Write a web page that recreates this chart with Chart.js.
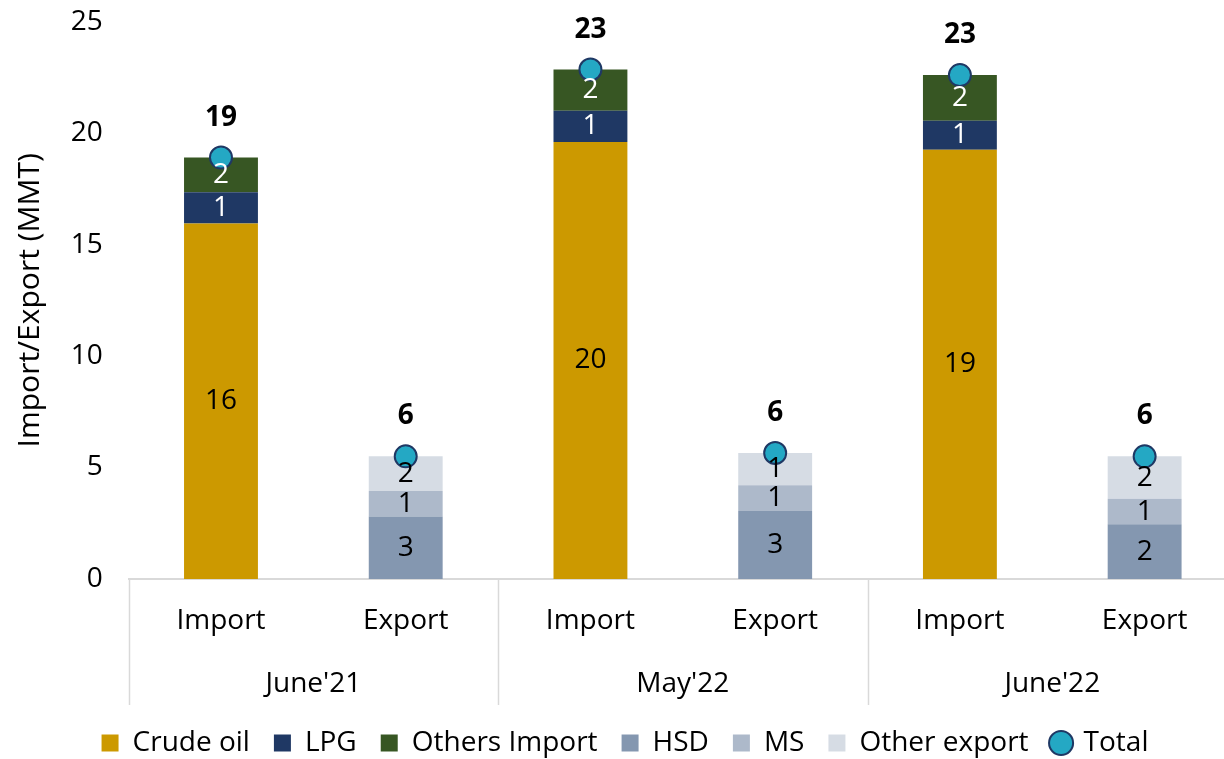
<!DOCTYPE html>
<html>
<head>
<meta charset="utf-8">
<script src="https://cdn.jsdelivr.net/npm/chart.js@4.4.0/dist/chart.umd.min.js"></script>
<style>
  html, body { margin: 0; padding: 0; overflow: hidden; background: #fff; }
  #wrap { width: 1224px; height: 759px; overflow: hidden; }
  #myChart { display: block; margin-top: -21px; }
</style>
</head>
<body>
<div id="wrap"><canvas id="myChart" width="1250" height="788"></canvas></div>
<script>
// data (MMT)
const categories = ["Import", "Export", "Import", "Export", "Import", "Export"];
const months = ["June'21", "May'22", "June'22"];
const crude_oil = [15.95, null, 19.6, null, 19.25, null];
const lpg = [1.4, null, 1.4, null, 1.3, null];
const others_import = [1.55, null, 1.85, null, 2.05, null];
const hsd = [null, 2.8, null, 3.05, null, 2.45];
const ms = [null, 1.15, null, 1.15, null, 1.15];
const other_export = [null, 1.55, null, 1.45, null, 1.9];
const total = [18.9, 5.5, 22.85, 5.65, 22.6, 5.5];

Chart.defaults.font.family = "'Open Sans', sans-serif";
Chart.defaults.font.size = 28;
Chart.defaults.color = "#000";

// value labels inside bars and totals above the dots
const valueLabels = {
  id: "valueLabels",
  afterDatasetsDraw(chart) {
    const ctx = chart.ctx;
    ctx.save();
    ctx.textAlign = "center";
    ctx.textBaseline = "middle";
    chart.data.datasets.forEach((ds, i) => {
      const meta = chart.getDatasetMeta(i);
      meta.data.forEach((el, j) => {
        const v = ds.data[j];
        if (v == null) return;
        if (ds.type === "line") {
          ctx.font = "bold 28px 'Open Sans'";
          ctx.fillStyle = "#000";
          ctx.fillText(Math.round(v), el.x, el.y - 40);
        } else {
          ctx.font = "28px 'Open Sans'";
          ctx.fillStyle = ds.labelColor;
          ctx.fillText(Math.round(v), el.x, (el.y + el.base) / 2);
        }
      });
    });
    ctx.restore();
  },
  afterDraw(chart) {
    // group separators of the two-level category axis
    const x = chart.scales.x;
    const x2 = chart.scales.x2;
    const half = (x.getPixelForTick(1) - x.getPixelForTick(0)) / 2;
    const ctx = chart.ctx;
    ctx.save();
    ctx.strokeStyle = "#d9d9d9";
    ctx.lineWidth = 1.5;
    [0, 2, 4].forEach((i) => {
      const px = Math.round(x.getPixelForTick(i) - half) + 0.5;
      ctx.beginPath();
      ctx.moveTo(px, x.top);
      ctx.lineTo(px, x2.bottom);
      ctx.stroke();
    });
    ctx.restore();
  },
};

const bar = (label, data, color, labelColor) => ({
  type: "bar",
  label: label,
  data: data,
  backgroundColor: color,
  borderWidth: 0,
  pointStyle: "rect",
  labelColor: labelColor,
  stack: "s",
  order: 1,
  barPercentage: 1,
  categoryPercentage: 0.4,
});

const ctx = document.getElementById("myChart").getContext("2d");
const myChart = new Chart(ctx, {
  data: {
    labels: categories,
    datasets: [
      bar("Crude oil", crude_oil, "#cc9900", "#000"),
      bar("LPG", lpg, "#1f3864", "#fff"),
      bar("Others Import", others_import, "#375623", "#fff"),
      bar("HSD", hsd, "#8497b0", "#000"),
      bar("MS", ms, "#adb9ca", "#000"),
      bar("Other export", other_export, "#d6dce4", "#000"),
      {
        type: "line",
        label: "Total",
        data: total,
        showLine: false,
        stack: "total",
        order: 0,
        pointStyle: "circle",
        pointRadius: 11,
        pointHoverRadius: 11,
        pointBackgroundColor: "#24a8c4",
        pointBorderColor: "#1f3864",
        pointBorderWidth: 2,
        backgroundColor: "#24a8c4",
        borderColor: "#1f3864",
        borderWidth: 2,
      },
    ],
  },
  options: {
    responsive: false,
    animation: false,
    devicePixelRatio: 1,
    layout: { padding: { top: 1, left: 0, right: 0, bottom: 0 } },
    plugins: {
      tooltip: { enabled: false },
      legend: {
        position: "bottom",
        labels: {
          usePointStyle: true,
          boxWidth: 17,
          boxHeight: 17,
          padding: 24,
          sort: (a, b) => a.datasetIndex - b.datasetIndex,
        },
      },
    },
    scales: {
      x: {
        stacked: true,
        grid: { display: false, drawTicks: false },
        border: { display: true, color: "#d9d9d9", width: 2 },
        ticks: { padding: 25.2 },
      },
      x2: {
        type: "category",
        position: "bottom",
        labels: months,
        offset: true,
        grid: { display: false, drawTicks: false },
        border: { display: false },
        ticks: { padding: 4.2 },
      },
      y: {
        stacked: true,
        min: 0,
        max: 25,
        ticks: { stepSize: 5, padding: 25.8 },
        grid: { display: false, drawTicks: false },
        border: { display: false },
        title: {
          display: true,
          text: "Import/Export (MMT)",
          font: { size: 30, lineHeight: 1 },
          padding: { top: 15, bottom: 0 },
        },
      },
    },
  },
  plugins: [valueLabels],
});
</script>
</body>
</html>
